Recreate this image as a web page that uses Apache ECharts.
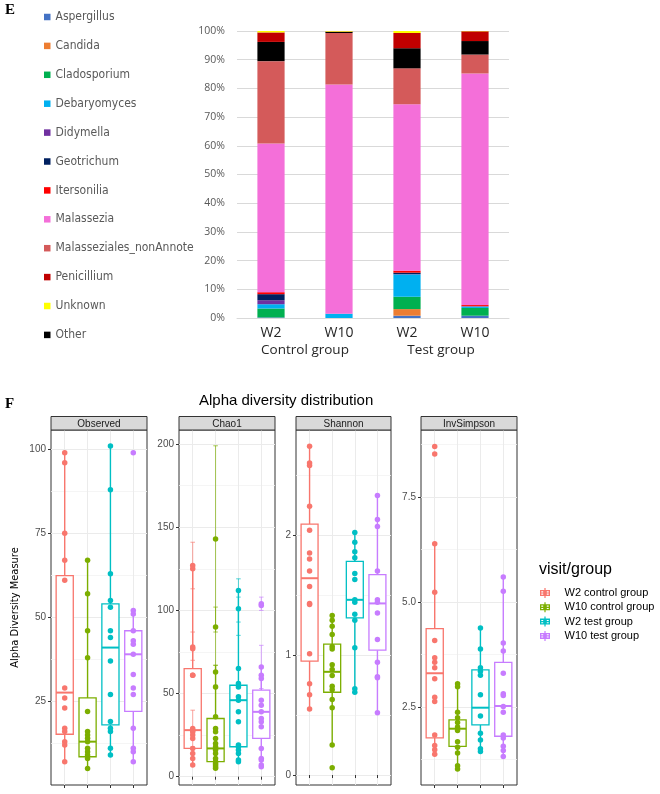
<!DOCTYPE html>
<html>
<head>
<meta charset="utf-8">
<script src="https://cdn.jsdelivr.net/npm/echarts@6/dist/echarts.min.js"></script>
<style>
html, body { margin: 0; padding: 0; background: #fff; }
#chart { width: 660px; height: 794px; }
</style>
</head>
<body>
<div id="chart"></div>
<script>
// ---------- panel E : relative abundance (%) ----------
const barCategories = ["W2", "W10", "W2", "W10"];
const groupCategories = ["Control group", "Test group"];

// stack order, bottom -> top
const taxaNames = ["Aspergillus", "Candida", "Cladosporium", "Debaryomyces", "Didymella", "Geotrichum",
  "Itersonilia", "Malassezia", "Malasseziales_nonAnnote", "Other", "Penicillium", "Unknown"];
const taxaColors = ["#4472c4", "#ed7d31", "#00b050", "#00b0f0", "#7030a0", "#002060",
  "#ff0000", "#f46fd9", "#d45a5a", "#000000", "#c00000", "#ffff00"];
const legendOrder = ["Aspergillus", "Candida", "Cladosporium", "Debaryomyces", "Didymella", "Geotrichum",
  "Itersonilia", "Malassezia", "Malasseziales_nonAnnote", "Penicillium", "Unknown", "Other"];

const aspergillus   = [0.2, 0, 0.8, 0.8];
const candida       = [0, 0, 2.3, 0];
const cladosporium  = [3.1, 0, 4.3, 2.7];
const debaryomyces  = [1.5, 1.5, 7.8, 0.5];
const didymella     = [1.4, 0, 0.1, 0.1];
const geotrichum    = [2.1, 0, 0.5, 0];
const itersonilia   = [0.7, 0, 0.7, 0.4];
const malassezia    = [51.8, 79.9, 58.0, 80.7];
const malasseziales = [28.7, 17.9, 12.5, 6.6];
const other         = [6.7, 0.4, 7.0, 4.7];
const penicillium   = [3.3, 0.1, 5.3, 3.4];
const unknown       = [0.5, 0.2, 0.7, 0.1];
const taxaValues = [aspergillus, candida, cladosporium, debaryomyces, didymella, geotrichum,
  itersonilia, malassezia, malasseziales, other, penicillium, unknown];

// ---------- panel F : alpha diversity ----------
const groups = ["W2 control group", "W10 control group", "W2 test group", "W10 test group"];
const groupColors = ["#f8766d", "#7cae00", "#00bfc4", "#c77cff"];

// box stats per group: [lower whisker, Q1, median, Q3, upper whisker]
const observedPoints = [
  [99, 96, 75, 67, 61, 29, 26, 23, 17, 16, 13, 12, 7],
  [67, 57, 46, 38, 22, 16, 15, 14, 13, 11, 10, 9, 8, 5],
  [101, 88, 63, 55, 53, 46, 44, 37, 27, 19, 17, 16, 11, 9],
  [99, 52, 51, 46, 43, 42, 39, 33, 29, 27, 17, 11, 10, 7]
];
const observedStats = [[7, 15.2, 27.6, 62.4, 99], [5, 8.5, 13, 26, 67], [9, 18, 41, 54, 101], [7, 22, 39, 46, 52]];
const observedTicks = [25, 50, 75, 100];
const observedMinor = [12.5, 37.5, 62.5, 87.5];

const chao1Points = [
  [127, 125, 78, 77, 61, 61, 29, 28, 27, 25, 23, 17, 14, 11, 7],
  [143, 90, 63, 54, 36, 29, 27, 23, 20, 18, 17, 16, 14, 11, 9, 8, 7, 6, 5],
  [112, 101, 65, 56, 54, 48, 46, 39, 33, 19, 18, 16, 14, 10, 9],
  [104, 103, 66, 61, 59, 46, 43, 39, 35, 33, 30, 17, 11, 10, 7, 6]
];
const chao1Stats = [[7, 17, 28, 65, 127], [5, 9, 17, 35, 67], [9, 18, 46, 55, 112], [6, 23, 39, 52, 66]];
// visible chao1 standard-error bars: [group, low, high]
const chao1Err = [[0, 113, 141], [0, 70, 87], [0, 18, 40], [1, 87, 199], [1, 67, 102], [1, 55, 67],
  [2, 93, 119], [2, 85, 108], [3, 53, 79], [3, 100, 108]];
const chao1Ticks = [0, 50, 100, 150, 200];
const chao1Minor = [25, 75, 125, 175];

const shannonPoints = [
  [2.74, 2.60, 2.58, 2.24, 2.04, 1.85, 1.80, 1.70, 1.57, 1.43, 1.42, 1.01, 0.76, 0.67, 0.55],
  [1.33, 1.29, 1.24, 1.17, 1.07, 1.05, 0.92, 0.88, 0.83, 0.74, 0.71, 0.63, 0.56, 0.25, 0.06],
  [2.02, 1.94, 1.86, 1.81, 1.68, 1.63, 1.46, 1.44, 1.34, 1.29, 1.06, 0.72, 0.69],
  [2.33, 2.13, 2.07, 1.70, 1.46, 1.44, 1.35, 1.13, 0.94, 0.82, 0.81, 0.52]
];
const shannonStats = [[0.55, 0.95, 1.64, 2.09, 2.74], [0.25, 0.69, 0.86, 1.09, 1.33], [0.69, 1.31, 1.46, 1.78, 2.02], [0.52, 1.04, 1.43, 1.67, 2.33]];
const shannonTicks = [0, 1, 2];
const shannonMinor = [0.5, 1.5, 2.5];

const invSimpsonPoints = [
  [8.70, 8.52, 6.38, 5.23, 4.08, 3.67, 3.56, 3.43, 3.17, 2.73, 2.63, 1.83, 1.58, 1.48, 1.37],
  [3.05, 2.98, 2.37, 2.24, 2.13, 2.02, 1.94, 1.67, 1.54, 1.40, 1.10, 1.02],
  [4.38, 3.88, 3.43, 3.35, 3.25, 2.79, 2.28, 1.87, 1.71, 1.50, 1.44],
  [5.59, 5.25, 4.02, 3.83, 3.30, 2.81, 2.77, 2.51, 2.37, 1.83, 1.76, 1.56, 1.46, 1.32]
];
const invSimpsonStats = [[1.37, 1.76, 3.30, 4.36, 6.38], [1.02, 1.56, 1.98, 2.19, 3.05], [1.44, 2.07, 2.48, 3.38, 4.38], [1.32, 1.80, 2.52, 3.56, 5.59]];
const invSimpsonTicks = [2.5, 5, 7.5];
const invSimpsonMinor = [1.25, 3.75, 6.25, 8.75];

const facets = [
  { name: "Observed", left: 51, width: 96, yMin: 0.1, yMax: 105.75, points: observedPoints, stats: observedStats, ticks: observedTicks, minor: observedMinor, fmt: v => String(v) },
  { name: "Chao1", left: 179, width: 96, yMin: -5, yMax: 208.5, points: chao1Points, stats: chao1Stats, ticks: chao1Ticks, minor: chao1Minor, fmt: v => String(v), err: chao1Err },
  { name: "Shannon", left: 296, width: 95, yMin: -0.083, yMax: 2.875, points: shannonPoints, stats: shannonStats, ticks: shannonTicks, minor: shannonMinor, fmt: v => String(v) },
  { name: "InvSimpson", left: 421, width: 96, yMin: 0.64, yMax: 9.09, points: invSimpsonPoints, stats: invSimpsonStats, ticks: invSimpsonTicks, minor: invSimpsonMinor, fmt: v => Number(v).toFixed(1) }
];
const facetTop = 430, facetHeight = 355, stripHeight = 13.5;

const narrow = "'Liberation Sans Narrow', 'DejaVu Sans Condensed', sans-serif";
const boxKey = "path://M2 2h10v1.3h-10z M2 6.7h10v1.3h-10z M2 2h1.3v6h-1.3z M10.7 2h1.3v6h-1.3z M2 4.4h10v1.2h-10z M6.4 0h1.2v2h-1.2z M6.4 8h1.2v2h-1.2z M5.2 3.2h3.6v3.6h-3.6z";

function renderBox(params, api) {
  const x = api.value(0);
  const c = groupColors[api.value(6)];
  const half = api.size([0.75, 0])[0] / 2;
  const lo = api.coord([x, api.value(1)]);
  const q1 = api.coord([x, api.value(2)]);
  const md = api.coord([x, api.value(3)]);
  const q3 = api.coord([x, api.value(4)]);
  const hi = api.coord([x, api.value(5)]);
  const ls = { stroke: c, lineWidth: 1.4 };
  return {
    type: "group",
    children: [
      { type: "line", shape: { x1: lo[0], y1: lo[1], x2: q1[0], y2: q1[1] }, style: ls },
      { type: "line", shape: { x1: q3[0], y1: q3[1], x2: hi[0], y2: hi[1] }, style: ls },
      { type: "rect", shape: { x: q3[0] - half, y: q3[1], width: half * 2, height: q1[1] - q3[1] }, style: { stroke: c, fill: "#fff", lineWidth: 1.3 } },
      { type: "line", shape: { x1: md[0] - half, y1: md[1], x2: md[0] + half, y2: md[1] }, style: { stroke: c, lineWidth: 2 } }
    ]
  };
}

function renderErr(params, api) {
  const x = api.value(0);
  const c = groupColors[api.value(3)];
  const cap = api.size([0.1, 0])[0];
  const lo = api.coord([x, api.value(1)]);
  const hi = api.coord([x, api.value(2)]);
  const ls = { stroke: c, lineWidth: 0.8, opacity: 0.85 };
  return {
    type: "group",
    children: [
      { type: "line", shape: { x1: lo[0], y1: lo[1], x2: hi[0], y2: hi[1] }, style: ls },
      { type: "line", shape: { x1: lo[0] - cap, y1: lo[1], x2: lo[0] + cap, y2: lo[1] }, style: ls },
      { type: "line", shape: { x1: hi[0] - cap, y1: hi[1], x2: hi[0] + cap, y2: hi[1] }, style: ls }
    ]
  };
}

const grids = [{ left: 237, top: 31, width: 272, height: 287 }];
const xAxes = [
  {
    type: "category", gridIndex: 0, data: barCategories,
    axisLine: { lineStyle: { color: "#d9d9d9" } }, axisTick: { show: false },
    axisLabel: { fontSize: 14, color: "#262626", margin: 8, fontFamily: "'Open Sans', sans-serif" }
  },
  {
    type: "category", gridIndex: 0, position: "bottom", offset: 17, data: groupCategories,
    axisLine: { show: false }, axisTick: { show: false },
    axisLabel: { fontSize: 13.5, color: "#262626", margin: 8, fontFamily: "'Open Sans', sans-serif" }
  }
];
const yAxes = [
  {
    type: "value", gridIndex: 0, min: 0, max: 100, interval: 10,
    axisLine: { show: false }, axisTick: { show: false },
    axisLabel: { formatter: "{value}%", color: "#595959", fontSize: 10.5, margin: 12, fontFamily: "'Open Sans', sans-serif" },
    splitLine: { lineStyle: { color: "#d9d9d9", width: 1 } }
  }
];
const series = taxaNames.map((n, i) => ({
  name: n, type: "bar", stack: "total", barWidth: "40%",
  xAxisIndex: 0, yAxisIndex: 0, data: taxaValues[i],
  itemStyle: { color: taxaColors[i] }
}));
const graphics = [];

facets.forEach((f, k) => {
  const gi = k + 1;
  grids.push({ left: f.left, top: facetTop, width: f.width, height: facetHeight, show: true, borderColor: "#333", borderWidth: 1, backgroundColor: "#fff" });
  const xi = xAxes.length;
  xAxes.push({
    type: "value", gridIndex: gi, min: 0.4, max: 4.6,
    axisLine: { show: false },
    axisTick: { length: 3, lineStyle: { color: "#333" }, customValues: [1, 2, 3, 4] },
    axisLabel: { show: false },
    splitLine: { lineStyle: { color: "#ebebeb", width: 1 } }
  });
  const yi = yAxes.length;
  yAxes.push({
    type: "value", gridIndex: gi, min: f.yMin, max: f.yMax,
    axisLine: { show: false },
    axisTick: { length: 3, lineStyle: { color: "#333" }, customValues: f.ticks },
    axisLabel: { customValues: f.ticks, formatter: f.fmt, color: "#4d4d4d", fontSize: 10, margin: 5, fontFamily: "'Liberation Sans', sans-serif" },
    splitLine: { lineStyle: { color: "#ebebeb", width: 1 } },
    name: k === 0 ? "Alpha Diversity Measure" : "",
    nameLocation: "middle", nameGap: 30,
    nameTextStyle: { fontSize: 11, color: "#000", fontFamily: narrow }
  });
  yAxes.push({
    type: "value", gridIndex: gi, min: f.yMin, max: f.yMax,
    axisLine: { show: false },
    axisTick: { show: false, customValues: f.minor },
    axisLabel: { show: false },
    splitLine: { lineStyle: { color: "#f3f3f3", width: 0.8 } }
  });
  series.push({
    type: "custom", name: f.name + " box", xAxisIndex: xi, yAxisIndex: yi, z: 3, silent: true,
    renderItem: renderBox, encode: { x: 0, y: [1, 2, 3, 4, 5] },
    data: f.stats.map((s, g) => [g + 1, s[0], s[1], s[2], s[3], s[4], g])
  });
  if (f.err) {
    series.push({
      type: "custom", name: f.name + " se", xAxisIndex: xi, yAxisIndex: yi, z: 3, silent: true,
      renderItem: renderErr, encode: { x: 0, y: [1, 2] },
      data: f.err.map(e => [e[0] + 1, e[1], e[2], e[0]])
    });
  }
  f.points.forEach((pts, g) => {
    series.push({
      type: "scatter", name: groups[g], xAxisIndex: xi, yAxisIndex: yi, z: 4, silent: true,
      symbolSize: 5.5, itemStyle: { color: groupColors[g], opacity: 1 },
      data: pts.map(v => [g + 1, v])
    });
  });
  graphics.push({
    type: "rect", shape: { x: f.left, y: facetTop - stripHeight, width: f.width, height: stripHeight },
    style: { fill: "#d9d9d9", stroke: "#333", lineWidth: 1 }, z: 10
  });
  graphics.push({
    type: "text", x: f.left + f.width / 2, y: facetTop - stripHeight / 2 + 0.5, z: 11,
    style: { text: f.name, align: "center", verticalAlign: "middle", fontSize: 10, fill: "#1a1a1a", fontFamily: "'Liberation Sans', sans-serif" }
  });
});

const option = {
  animation: false,
  backgroundColor: "#fff",
  title: [
    { text: "E", left: 5, top: 3, padding: 0, textStyle: { fontSize: 15, fontWeight: "bold", fontFamily: "'Liberation Serif', serif", color: "#000" } },
    { text: "F", left: 5, top: 397, padding: 0, textStyle: { fontSize: 15, fontWeight: "bold", fontFamily: "'Liberation Serif', serif", color: "#000" } },
    { text: "Alpha diversity distribution", left: 199, top: 393, padding: 0, textStyle: { fontSize: 15, fontWeight: "normal", fontFamily: "'Liberation Sans', sans-serif", color: "#000" } },
    { text: "visit/group", left: 539, top: 562, padding: 0, textStyle: { fontSize: 16, fontWeight: "normal", fontFamily: "'Liberation Sans', sans-serif", color: "#000" } }
  ],
  legend: [
    {
      data: legendOrder, orient: "vertical", left: 44, top: 10, padding: 0,
      itemWidth: 6.5, itemHeight: 6.5, itemGap: 14.9, icon: "rect", selectedMode: false,
      textStyle: { fontSize: 12, lineHeight: 14, color: "#595959", fontFamily: narrow }
    },
    {
      data: groups, orient: "vertical", left: 540, top: 587, padding: 0,
      itemWidth: 13, itemHeight: 10, itemGap: 2.3, icon: boxKey, selectedMode: false,
      textStyle: { fontSize: 11, lineHeight: 12, color: "#000", fontFamily: "'Liberation Sans', sans-serif", padding: [0, 0, 0, 8] }
    }
  ],
  grid: grids,
  xAxis: xAxes,
  yAxis: yAxes,
  series: series,
  graphic: graphics
};

const myChart = echarts.init(document.getElementById("chart"));
myChart.setOption(option);
</script>
</body>
</html>
